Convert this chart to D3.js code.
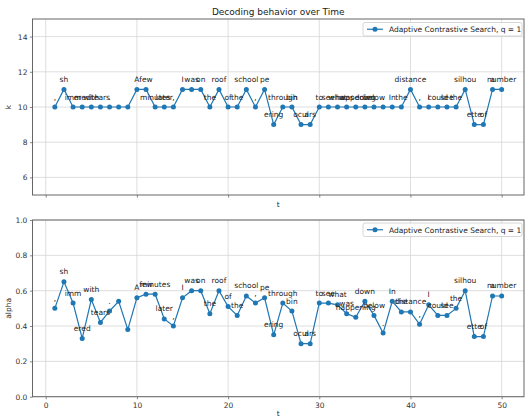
<!DOCTYPE html>
<html>
<head>
<meta charset="UTF-8">
<title>Decoding behavior over Time</title>
<script src="https://d3js.org/d3.v7.min.js"></script>
<style>
  body { margin: 0; background: #fff; }
  svg { font-family: "DejaVu Sans", sans-serif; }
</style>
</head>
<body>
<svg width="525" height="418"></svg>
<script>

const tokens = [",", "sh", "imm", "ered", "with", "tears", ".", "", "",
  "A", "few", "minutes", "later", ",", "I", "was", "on", "the", "roof", "of",
  "the", "school", ",", "pe", "ering", "through", "bin", "ocul", "ars", "to",
  "see", "what", "was", "happening", "down", "below", ".", "In", "the", "distance",
  ",", "I", "could", "see", "the", "silhou", "ette", "of", "a", "number"];

const kValues = [10, 11, 10, 10, 10, 10, 10, 10, 10, 11,
  11, 10, 10, 10, 11, 11, 11, 10, 11, 10,
  10, 11, 10, 11, 9, 10, 10, 9, 9, 10,
  10, 10, 10, 10, 10, 10, 10, 10, 10, 11,
  10, 10, 10, 10, 10, 11, 9, 9, 11, 11];

const alphaValues = [0.50, 0.65, 0.53, 0.33, 0.55, 0.42, 0.485, 0.54, 0.38, 0.56,
  0.58, 0.58, 0.44, 0.40, 0.56, 0.60, 0.60, 0.47, 0.60, 0.51,
  0.46, 0.57, 0.53, 0.56, 0.35, 0.53, 0.485, 0.30, 0.30, 0.53,
  0.53, 0.52, 0.47, 0.45, 0.54, 0.46, 0.36, 0.54, 0.48, 0.48,
  0.41, 0.52, 0.46, 0.46, 0.50, 0.60, 0.34, 0.34, 0.57, 0.57];

const xTicks = [0, 10, 20, 30, 40, 50];
const kTicks = [6, 8, 10, 12, 14];
const alphaTicks = [0, 0.2, 0.4, 0.6, 0.8, 1.0];
const seriesName = "Adaptive Contrastive Search, q = 1";

const svg = d3.select("svg");
const color = "#1f77b4";
const left = 32.5, right = 524;

const x = d3.scaleLinear().domain([-1.45, 52.45]).range([left, right]);

svg.append("text")
  .attr("x", (left + right) / 2).attr("y", 14.5)
  .attr("text-anchor", "middle")
  .attr("font-size", 9).attr("fill", "#222")
  .text("Decoding behavior over Time");

function panel(values, yDomain, yTicks, fmt, top, bottom, ylabel, showXLabels, legendY) {
  const y = d3.scaleLinear().domain(yDomain).range([bottom, top]);
  const g = svg.append("g");

  // grid
  g.append("g").selectAll("line").data(xTicks).join("line")
    .attr("x1", d => x(d)).attr("x2", d => x(d))
    .attr("y1", top).attr("y2", bottom)
    .attr("stroke", "#d6d6d6").attr("stroke-width", 0.8);
  g.append("g").selectAll("line").data(yTicks).join("line")
    .attr("x1", left).attr("x2", right)
    .attr("y1", d => y(d)).attr("y2", d => y(d))
    .attr("stroke", "#d6d6d6").attr("stroke-width", 0.8);

  // axes
  const xAxis = d3.axisBottom(x).tickValues(xTicks).tickSize(2.6).tickPadding(3)
    .tickFormat(showXLabels ? d3.format("d") : () => "");
  const xg = g.append("g").attr("transform", `translate(0,${bottom})`).call(xAxis);
  const yAxis = d3.axisLeft(y).tickValues(yTicks).tickSize(2.6).tickPadding(2.5).tickFormat(fmt);
  const yg = g.append("g").attr("transform", `translate(${left},0)`).call(yAxis);
  [xg, yg].forEach(a => {
    a.select(".domain").remove();
    a.selectAll("line").attr("stroke", "#555").attr("stroke-width", 0.7);
    a.selectAll("text").attr("font-size", 7.5).attr("fill", "#333")
      .attr("font-family", "DejaVu Sans, sans-serif");
  });

  // frame
  g.append("rect")
    .attr("x", left).attr("y", top)
    .attr("width", right - left).attr("height", bottom - top)
    .attr("fill", "none").attr("stroke", "#666").attr("stroke-width", 1);

  // axis labels
  g.append("text")
    .attr("x", (left + right) / 2).attr("y", bottom + (showXLabels ? 19 : 12))
    .attr("text-anchor", "middle").attr("font-size", 7.5).attr("fill", "#222")
    .text("t");
  g.append("text")
    .attr("transform", `translate(11,${(top + bottom) / 2}) rotate(-90)`)
    .attr("text-anchor", "middle").attr("font-size", 7.5).attr("fill", "#222")
    .text(ylabel);

  const data = values.map((v, i) => ({ t: i + 1, v: v, w: tokens[i] }));

  g.append("path").datum(data)
    .attr("fill", "none").attr("stroke", color).attr("stroke-width", 1.2)
    .attr("d", d3.line().x(d => x(d.t)).y(d => y(d.v)));

  g.append("g").selectAll("circle").data(data).join("circle")
    .attr("cx", d => x(d.t)).attr("cy", d => y(d.v)).attr("r", 2.5)
    .attr("fill", color);

  g.append("g").selectAll("text").data(data).join("text")
    .attr("x", d => x(d.t)).attr("y", d => y(d.v) - 7.5)
    .attr("text-anchor", "middle").attr("font-size", 7.5).attr("fill", "#222")
    .text(d => d.w);

  // legend
  const lg = g.append("g").attr("transform", `translate(363,${legendY})`);
  lg.append("rect").attr("width", 159).attr("height", 13.5).attr("rx", 2)
    .attr("fill", "#fff").attr("fill-opacity", 0.85)
    .attr("stroke", "#ccc").attr("stroke-width", 0.8);
  lg.append("line").attr("x1", 4).attr("x2", 20).attr("y1", 6.75).attr("y2", 6.75)
    .attr("stroke", color).attr("stroke-width", 1.2);
  lg.append("circle").attr("cx", 12).attr("cy", 6.75).attr("r", 2.5).attr("fill", color);
  lg.append("text").attr("x", 26).attr("y", 9.5)
    .attr("font-size", 7.5).attr("fill", "#222").text(seriesName);
}

panel(kValues, [5, 15], kTicks, d3.format("d"), 19, 195, "k", false, 22.5);
panel(alphaValues, [0, 1], alphaTicks, d3.format(".1f"), 220, 396.7, "alpha", true, 223);

</script>
</body>
</html>
